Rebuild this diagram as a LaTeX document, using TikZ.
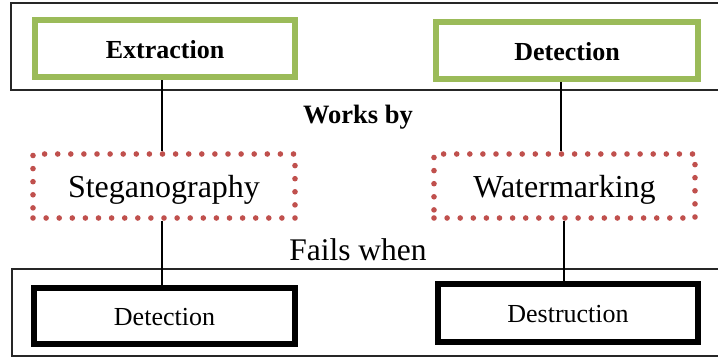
\documentclass[tikz,border=0pt]{standalone}
\usepackage{fontspec}
\setmainfont{Liberation Serif}
\definecolor{boxgreen}{HTML}{9BBB59}
\definecolor{dotred}{HTML}{C0504D}
\begin{document}
\begin{tikzpicture}[x=1pt,y=-1pt,
  framebox/.style={draw=black!85, line width=1.6pt},
  greenbox/.style={draw=boxgreen, line width=6.5pt, minimum width=260pt,
    minimum height=57pt, inner sep=0pt, text height=20pt, text depth=0pt,
    font=\fontsize{26}{30}\selectfont\bfseries},
  dotbox/.style={draw=dotred, line width=5.6pt, line cap=round,
    dash pattern=on 0pt off 13.1pt, minimum width=262pt, minimum height=64pt,
    inner sep=0pt, text height=23pt, text depth=0pt,
    font=\fontsize{32}{36}\selectfont},
  blackbox/.style={draw=black, line width=6pt, minimum width=261pt,
    minimum height=56pt, inner sep=0pt, text height=20pt, text depth=0pt,
    font=\fontsize{26}{30}\selectfont},
  link/.style={draw=black, line width=1.4pt},
  caption/.style={inner sep=0pt}
]
\useasboundingbox (0,0) rectangle (718,358);

% outer frames (open to the right edge)
\begin{scope}
  \clip (0,0) rectangle (718,358);
  \draw[framebox] (11,3) rectangle (730,90);
  \draw[framebox] (12,269) rectangle (730,356);
\end{scope}

% top row
\node[greenbox] (ext) at (165,48.5) {Extraction};
\node[greenbox, minimum width=262pt] (det1) at (567,50.5) {Detection};

% middle row
\node[dotbox] (steg) at (164,186) {Steganography};
\node[dotbox, minimum width=261pt] (wat) at (564.5,186) {Watermarking};

% bottom row
\node[blackbox] (det2) at (164.5,316) {Detection};
\node[blackbox, minimum width=260pt, minimum height=58pt] (des) at (568,313) {Destruction};

% captions
\node[caption, font=\fontsize{26.5}{30}\selectfont\bfseries] (works) at (358,117.5) {Works by};
\node[caption, font=\fontsize{31.5}{36}\selectfont] (fails) at (358,250) {Fails when};

% connectors
\draw[link] ([xshift=-2pt]steg.north) -- ([xshift=-2pt]steg.north |- ext.south);
\draw[link] ([xshift=-3.5pt]wat.north) -- ([xshift=-3.5pt]wat.north |- det1.south);
\draw[link] ([xshift=-2pt]steg.south) -- ([xshift=-2pt]steg.south |- det2.north);
\draw[link] ([xshift=-0.5pt]wat.south) -- ([xshift=-0.5pt]wat.south |- des.north);
\end{tikzpicture}
\end{document}
